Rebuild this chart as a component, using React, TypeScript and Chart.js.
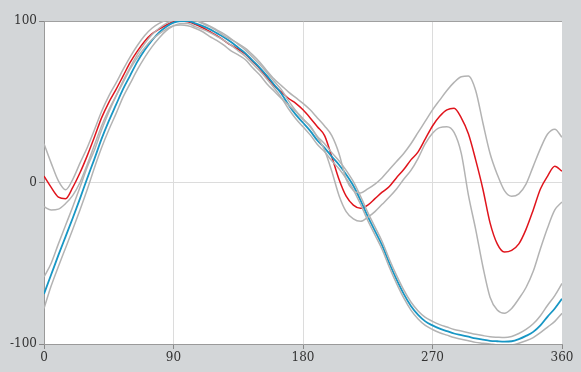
import React, { useEffect, useRef } from "react";
import { Chart, registerables } from "chart.js";

Chart.register(...registerables);

const ANGLES = [0,5,10,15,20,25,30,35,40,45,50,55,60,65,70,75,80,85,90,95,100,105,110,115,120,125,130,135,140,145,150,155,160,165,170,175,180,185,190,195,200,205,210,215,220,225,230,235,240,245,250,255,260,265,270,275,280,285,290,295,300,305,310,315,320,325,330,335,340,345,350,355,360];

const RED_MEAN = [4,-3,-9,-10,-3,6,16.5,28,40,49.5,57.5,66,74.5,81.5,87.5,92,95,97.5,99.5,100,99.5,98,96,93.5,91,88,85,82.5,79.5,75,70.5,65,60,56,52,49,45,40,34.5,29,16,2,-8.5,-14,-16,-14,-10,-6,-2.5,3,8,14,19,27,35,41,45,46,40,30,14,-4,-25,-38,-43,-42,-38,-29,-17,-4,4,10,7];

const RED_UPPER = [24,12,1,-4.5,2,12,21.5,32.5,44,53.5,61.5,70,78,85,91,95.5,98.5,100.5,101,101.5,101,100.5,98.5,96.5,94,91,88.5,86,83,79,74.5,69,64,60,56,52.5,49,45,40,35,29,18,2,-5,-6.5,-4,-1,3,8,13,18,24,31,38,45,51,57,62,65.5,66,57,37,18,5,-5,-8.5,-7,-1,10,21,30,33,28];

const RED_LOWER = [-15,-17,-16.5,-13,-8,0,11,23,35,45,53.5,62,70.5,77.5,83.5,88.5,92,95,97,97.5,97,95.5,93.5,90.5,88,85,81.5,79,76,71,66.5,61,56.5,52,48,44,39,35,28,20,7,-8,-18,-22.5,-24,-21.5,-18,-13.5,-9,-4,2,7.5,15,24,30.5,34,34.5,31,18,-8,-29,-52,-71,-79,-81,-78,-72,-65,-55,-41,-28,-17,-12];

const BLUE_MEAN = [-69,-57,-45,-33.5,-22,-10,2.5,14.5,27,38,48,58,66.5,75,82,88,93,96.5,99,100,100,98.5,97,95,92.5,90,87,83.5,80,75.5,71,66,60.5,55,48,42,37,32,26,21.5,16,11,5,-2,-11,-21,-30,-39,-50,-60,-69,-76.5,-82,-86,-88.5,-90.5,-92,-93.5,-94.5,-95.5,-96.5,-97.3,-98,-98.3,-98.5,-98.3,-97,-95,-92.5,-88.5,-83,-78,-72];

const BLUE_UPPER = [-58.5,-50,-38,-26.5,-15,-3,9.5,20,32.5,43.5,53.5,63,71.5,79.5,86,91.5,95.5,98.5,100.5,101.5,101.5,100.5,99,97,94.5,92,89,85.5,82,77.5,73,68,62.5,57.5,50.5,44.5,39.5,34.5,28.5,24,18.5,13.5,7.5,0.5,-8.5,-18.5,-27.5,-36.5,-47.5,-57.5,-66.5,-74,-79.5,-83.5,-86,-88,-89.5,-91,-92,-93,-94,-94.8,-95.5,-95.8,-96,-95.3,-93.5,-91,-87.5,-82.5,-76,-70,-62.5];

const BLUE_LOWER = [-78,-64,-52,-40.5,-29,-17,-4.5,9,21.5,32.5,42.5,53,61.5,70,77.5,84,89.5,94,97,98.5,98.5,96.5,95,93,90.5,88,85,81.5,78,73.5,69,64,58.5,52.5,45.5,39.5,34.5,29.5,23.5,19,13.5,8.5,2.5,-4.5,-13.5,-23.5,-32.5,-41.5,-52.5,-62.5,-71.5,-79,-84.5,-88.5,-91,-93,-94.5,-96,-97,-98,-99,-99.5,-100,-100.5,-100.5,-100.5,-99.5,-98,-96,-93,-89.5,-86,-81];

const X_TICKS = [0, 90, 180, 270, 360];
const Y_TICKS = [-100, 0, 100];

const RED = "#e0141c";
const BLUE = "#1796c4";
const GRAY = "#b3b3b3";

function pts(vals: number[]) {
  return ANGLES.map((a, i) => ({ x: a, y: vals[i] }));
}

export default function App() {
  const ref = useRef<HTMLCanvasElement | null>(null);
  useEffect(() => {
    document.body.style.margin = "0";
    const canvas = ref.current!;
    const mk = (data: number[], color: string, w: number) => ({
      data: pts(data),
      borderColor: color,
      borderWidth: w,
      pointRadius: 0,
      fill: false,
      cubicInterpolationMode: "monotone" as const,
    });
    const chart = new Chart(canvas, {
      type: "line",
      data: {
        datasets: [
          mk(BLUE_UPPER, GRAY, 1.5),
          mk(BLUE_LOWER, GRAY, 1.5),
          mk(RED_UPPER, GRAY, 1.5),
          mk(RED_LOWER, GRAY, 1.5),
          mk(BLUE_MEAN, BLUE, 1.8),
          mk(RED_MEAN, RED, 1.5),
        ],
      },
      plugins: [
        {
          id: "bg",
          beforeDraw(c: any) {
            const { ctx, chartArea: a } = c;
            ctx.save();
            ctx.fillStyle = "#d3d6d8";
            ctx.fillRect(0, 0, c.width, c.height);
            ctx.fillStyle = "#ffffff";
            ctx.fillRect(a.left, a.top, a.right - a.left, a.bottom - a.top);
            ctx.restore();
          },
        },
      ],
      options: {
        responsive: false,
        animation: false,
        layout: { padding: { top: 21, right: 19, left: 0, bottom: 0 } },
        plugins: { legend: { display: false }, tooltip: { enabled: false }, title: { display: false } },
        scales: {
          x: {
            type: "linear",
            min: 0,
            max: 360,
            afterBuildTicks: (s: any) => {
              s.ticks = X_TICKS.map((v) => ({ value: v }));
            },
            afterFit: (s: any) => {
              s.height = 28;
            },
            ticks: { color: "#333", font: { family: "DejaVu Serif", size: 12 }, padding: 2, maxRotation: 0, autoSkip: false },
            grid: {
              color: (c: any) => (c.tick && (c.tick.value === 0 || c.tick.value === 360) ? "rgba(0,0,0,0)" : "#dcdcdc"),
              tickColor: "#888",
              tickLength: 5,
              lineWidth: 1,
            },
            border: { color: "#9a9a9a", width: 1 },
          },
          y: {
            type: "linear",
            min: -100,
            max: 100,
            afterBuildTicks: (s: any) => {
              s.ticks = Y_TICKS.map((v) => ({ value: v }));
            },
            afterFit: (s: any) => {
              s.width = 44;
            },
            ticks: { color: "#333", font: { family: "DejaVu Serif", size: 12 }, padding: 2 },
            grid: {
              color: (c: any) => (c.tick && c.tick.value === 100 ? "#a0a0a0" : c.tick && c.tick.value === -100 ? "rgba(0,0,0,0)" : "#dcdcdc"),
              tickColor: "#888",
              tickLength: 5,
              lineWidth: 1,
            },
            border: { color: "#9a9a9a", width: 1 },
          },
        },
      },
    } as any);
    return () => chart.destroy();
  }, []);
  return (
    <div style={{ position: "fixed", left: 0, top: 0, width: 581, height: 372, background: "#d3d6d8" }}>
      <canvas ref={ref} width={581} height={372} style={{ display: "block", width: 581, height: 372 }} />
    </div>
  );
}
